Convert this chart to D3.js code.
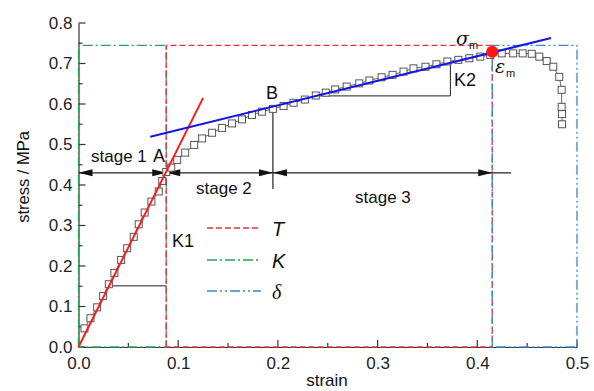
<!DOCTYPE html>
<html><head><meta charset="utf-8">
<script src="https://cdn.jsdelivr.net/npm/d3@7"></script>
<style>body{margin:0;background:#fff}svg{display:block}</style>
</head><body>
<svg id="c" width="594" height="391"></svg>
<script>
const strain = [0.006,0.012,0.0187,0.0247,0.0304,0.036,0.0428,0.0488,0.0554,0.0604,0.0664,0.0731,0.0805,0.084,0.088,0.093,0.099,0.107,0.116,0.124,0.134,0.144,0.154,0.164,0.174,0.184,0.195,0.2057,0.2157,0.227,0.238,0.248,0.2575,0.269,0.2816,0.2918,0.304,0.315,0.326,0.336,0.348,0.359,0.370,0.381,0.392,0.403,0.413,0.4245,0.436,0.4455,0.4546,0.4622,0.4696,0.4762,0.4822,0.4846,0.4846,0.485,0.485];
const stress = [0.046,0.071,0.098,0.126,0.155,0.183,0.215,0.244,0.272,0.303,0.332,0.359,0.384,0.41,0.432,0.443,0.462,0.480,0.499,0.515,0.529,0.541,0.552,0.562,0.573,0.581,0.588,0.595,0.603,0.611,0.621,0.628,0.636,0.643,0.651,0.658,0.666,0.672,0.680,0.688,0.692,0.698,0.705,0.709,0.713,0.717,0.721,0.725,0.725,0.725,0.724,0.717,0.706,0.692,0.667,0.635,0.593,0.575,0.550];
const xTicks = [0.0,0.1,0.2,0.3,0.4,0.5];
const yTicks = [0.0,0.1,0.2,0.3,0.4,0.5,0.6,0.7,0.8];
const strainA = 0.088, stressA = 0.43;
const strainB = 0.195, stressB = 0.59;
const strainM = 0.415, stressM = 0.729;
const strainEnd = 0.5, stressBox = 0.745;
const redLine = [[0,0],[0.125,0.615]];
const blueLine = [[0.072,0.519],[0.474,0.763]];
const k1Tri = [[0.031,0.151],[0.088,0.151]];
const k2Tri = [[0.238,0.62],[0.373,0.62],[0.373,0.704]];

const svg = d3.select("#c");
const x = d3.scaleLinear().domain([0,0.5]).range([78.5,577]);
const y = d3.scaleLinear().domain([0,0.8]).range([347,23]);
const sans = "'Liberation Sans', Arial, sans-serif";

const RED="#e8313a", GREEN="#2aa15a", BLUE="#3b88c9";
const dashT="6,3", dashK="10,3,2,3", dashD="10,3,2,3,2,3";
function seg(pts,color,dash,w){
  svg.append("path").attr("d",d3.line().x(d=>x(d[0])).y(d=>y(d[1]))(pts))
    .attr("fill","none").attr("stroke",color).attr("stroke-width",w||1.3)
    .attr("stroke-dasharray",dash||null);
}
// axes
const gx = svg.append("g").attr("transform",`translate(0,${y(0)})`);
gx.call(d3.axisBottom(x).tickValues(xTicks).tickFormat(d3.format(".1f")).tickSize(0).tickPadding(10));
const gy = svg.append("g").attr("transform",`translate(${x(0)},0)`);
gy.call(d3.axisLeft(y).tickValues(yTicks).tickFormat(d3.format(".1f")).tickSize(0).tickPadding(6));
[gx,gy].forEach(g=>{g.select(".domain").attr("stroke","#333").attr("stroke-width",1.2);
  g.selectAll("text").attr("font-family",sans).attr("font-size",17).attr("fill","#222");});
// inward ticks
d3.range(0,0.501,0.05).forEach((v,i)=>{
  const L = i%2===0?7:4;
  svg.append("line").attr("x1",x(v)).attr("x2",x(v)).attr("y1",y(0)).attr("y2",y(0)-L).attr("stroke","#333").attr("stroke-width",1.2);
});
d3.range(0,0.801,0.05).forEach((v,i)=>{
  const L = i%2===0?7:4;
  svg.append("line").attr("x1",x(0)).attr("x2",x(0)+L).attr("y1",y(v)).attr("y2",y(v)).attr("stroke","#333").attr("stroke-width",1.2);
});
// region boxes
seg([[0,0],[0,stressBox],[strainA,stressBox],[strainA,0],[0,0]],GREEN,dashK);
seg([[strainA,0],[strainA,stressBox],[strainM,stressBox],[strainM,0],[strainA,0]],RED,dashT);
seg([[strainM,0],[strainM,stressBox],[strainEnd,stressBox],[strainEnd,0],[strainM,0]],BLUE,dashD);

// K triangles
seg(k1Tri,"#222",null,1);
seg(k2Tri,"#222",null,1);
// B vertical
seg([[strainB,stressB],[strainB,0.39]],"#222",null,1.2);
// horizontal dimension line
seg([[0,stressA],[0.434,stressA]],"#222",null,1.2);
function arrow(tipS, dir){ // dir: -1 points left, +1 right
  const tx=x(tipS), ty=y(stressA), L=14, H=3.5;
  svg.append("path").attr("d",`M${tx},${ty}L${tx-dir*L},${ty-H}L${tx-dir*L},${ty+H}Z`).attr("fill","#111");
}
arrow(0,-1); arrow(strainA,1); arrow(strainA,-1); arrow(strainB,1); arrow(strainB,-1); arrow(strainM,1);

// data line + markers
const pts = strain.map((s,i)=>[s,stress[i]]);
seg(pts,"#666",null,1);
svg.append("g").selectAll("rect").data(pts).join("rect")
  .attr("x",d=>x(d[0])-3.5).attr("y",d=>y(d[1])-3.5).attr("width",7).attr("height",7)
  .attr("fill","#fff").attr("stroke","#555").attr("stroke-width",1);

// fit lines
seg(redLine,"#ff1a1a",null,2);
seg(blueLine,"#1515e6",null,2);
svg.append("circle").attr("cx",x(strainM)).attr("cy",y(stressM)).attr("r",6).attr("fill","#ff1515");

// labels
function txt(t,xx,yy,opt){opt=opt||{};
  return svg.append("text").attr("x",xx).attr("y",yy).text(t).attr("font-family",opt.f||sans)
    .attr("font-size",opt.s||17).attr("font-style",opt.i?"italic":null).attr("fill","#111")
    .attr("text-anchor",opt.a||"start");}
txt("stage 1",91,162);
txt("A",153,162,{s:18});
txt("stage 2",196,194);
txt("B",266,99,{s:18});
txt("stage 3",355,203);
txt("K1",172,247,{s:18});
txt("K2",454,86,{s:18});
txt("σ",456,45,{s:19,i:true,f:"'DejaVu Serif',serif"});
txt("m",469,49,{s:11});
txt("ε",495,73,{s:19,i:true,f:"'DejaVu Serif',serif"});
txt("m",506,77,{s:11});
// legend
const leg=[["T",RED,dashT,228,"'Liberation Sans',sans-serif"],["K",GREEN,dashK,260,"'Liberation Sans',sans-serif"],["δ",BLUE,dashD,291,"'Liberation Serif',serif"]];
leg.forEach(l=>{
  svg.append("line").attr("x1",207).attr("x2",261).attr("y1",l[3]).attr("y2",l[3]).attr("stroke",l[1]).attr("stroke-width",1.5).attr("stroke-dasharray",l[2]);
  txt(l[0],272,l[3]+8,{s:20,i:true,f:l[4]});
});
// axis titles
txt("strain",327,386,{a:"middle",s:17});
svg.append("text").attr("transform","translate(29,177) rotate(-90)").attr("text-anchor","middle")
  .attr("font-family",sans).attr("font-size",16.5).attr("fill","#111").text("stress / MPa");
</script>
</body></html>
